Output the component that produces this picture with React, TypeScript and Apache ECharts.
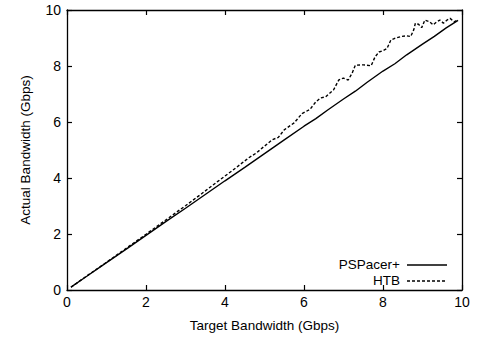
import React, { useEffect, useRef } from "react";
import * as echarts from "echarts";

const xTicks = [0, 2, 4, 6, 8, 10];

const pspacerX = [0.1, 0.5, 1.0, 1.5, 2.0, 2.5, 3.0, 3.5, 4.0, 4.5, 5.0, 5.5, 6.0, 6.3, 6.6, 7.0, 7.3, 7.6, 8.0, 8.3, 8.6, 9.0, 9.3, 9.6, 9.9];
const pspacerY = [0.1, 0.49, 0.98, 1.46, 1.95, 2.44, 2.92, 3.41, 3.9, 4.38, 4.87, 5.36, 5.85, 6.12, 6.43, 6.82, 7.1, 7.42, 7.82, 8.08, 8.4, 8.78, 9.06, 9.36, 9.63];

const htbX = [0.1, 0.5, 1.0, 1.5, 2.0, 2.5, 3.0, 3.4, 3.8, 4.2, 4.6, 4.8, 5.0, 5.2, 5.35, 5.5, 5.75, 5.95, 6.15, 6.3, 6.42, 6.55, 6.65, 6.75, 6.88, 7.0, 7.12, 7.22, 7.3, 7.5, 7.7, 7.8, 7.9, 8.0, 8.1, 8.2, 8.3, 8.45, 8.6, 8.7, 8.78, 8.82, 8.9, 8.98, 9.06, 9.18, 9.27, 9.36, 9.44, 9.53, 9.62, 9.7, 9.8, 9.88];
const htbY = [0.1, 0.5, 0.99, 1.49, 1.99, 2.5, 3.01, 3.43, 3.86, 4.28, 4.72, 4.9, 5.14, 5.37, 5.45, 5.72, 5.97, 6.3, 6.45, 6.72, 6.86, 6.9, 7.03, 7.15, 7.5, 7.57, 7.5, 7.75, 8.03, 8.04, 8.01, 8.33, 8.5, 8.55, 8.62, 8.93, 8.99, 9.05, 9.08, 9.05, 9.3, 9.53, 9.49, 9.37, 9.64, 9.58, 9.47, 9.58, 9.64, 9.53, 9.64, 9.7, 9.58, 9.64];

const seriesNames = ["PSPacer+", "HTB"];
const xName = "Target Bandwidth (Gbps)";
const yName = "Actual Bandwidth (Gbps)";

const FONT = "'Liberation Sans', Arial, sans-serif";

export default function App() {
  const ref = useRef<HTMLDivElement>(null);
  useEffect(() => {
    if (!ref.current) return;
    const chart = echarts.init(ref.current, null, { renderer: "svg" });
    const pspacer = pspacerX.map((x, i) => [x, pspacerY[i]]);
    const htb = htbX.map((x, i) => [x, htbY[i]]);
    const axisCommon = {
      type: "value" as const,
      min: xTicks[0],
      max: xTicks[xTicks.length - 1],
      interval: 2,
      splitLine: { show: false },
      axisLine: { show: true, onZero: false, lineStyle: { color: "#000", width: 1.3 } },
      axisTick: { show: true, inside: true, length: 5, lineStyle: { color: "#000", width: 1.2 } },
    };
    chart.setOption({
      animation: false,
      backgroundColor: "#fff",
      grid: { left: 67, top: 10, right: 15, bottom: 46, containLabel: false },
      xAxis: [
        {
          ...axisCommon,
          position: "bottom",
          name: xName,
          nameLocation: "middle",
          nameGap: 28,
          nameTextStyle: { color: "#000", fontFamily: FONT, fontSize: 13.5 },
          axisLabel: { color: "#000", fontFamily: FONT, fontSize: 14, margin: 5 },
        },
        { ...axisCommon, position: "top", axisLabel: { show: false } },
      ],
      yAxis: [
        {
          ...axisCommon,
          position: "left",
          name: yName,
          nameLocation: "middle",
          nameGap: 35,
          nameTextStyle: { color: "#000", fontFamily: FONT, fontSize: 13.5 },
          axisLabel: { color: "#000", fontFamily: FONT, fontSize: 14, margin: 6 },
        },
        { ...axisCommon, position: "right", axisLabel: { show: false } },
      ],
      series: [
        {
          name: seriesNames[0],
          type: "line",
          data: pspacer,
          showSymbol: false,
          lineStyle: { color: "#000", width: 1.4 },
        },
        {
          name: seriesNames[1],
          type: "line",
          data: htb,
          showSymbol: false,
          lineStyle: { color: "#000", width: 1.4, type: [3, 2] },
        },
      ],
      graphic: [
        {
          type: "text",
          right: 477 - 400,
          top: 257,
          style: { text: seriesNames[0], fill: "#000", font: `13.5px ${FONT}`, textAlign: "right" },
        },
        {
          type: "text",
          right: 477 - 400,
          top: 273,
          style: { text: seriesNames[1], fill: "#000", font: `13.5px ${FONT}`, textAlign: "right" },
        },
        {
          type: "line",
          shape: { x1: 407, y1: 265, x2: 447, y2: 265 },
          style: { stroke: "#000", lineWidth: 1.3 },
        },
        {
          type: "line",
          shape: { x1: 407, y1: 281, x2: 447, y2: 281 },
          style: { stroke: "#000", lineWidth: 1.3, lineDash: [3, 2] },
        },
      ],
    });
    return () => chart.dispose();
  }, []);
  return <div ref={ref} style={{ width: 477, height: 337, position: "absolute", left: 0, top: 0 }} />;
}
